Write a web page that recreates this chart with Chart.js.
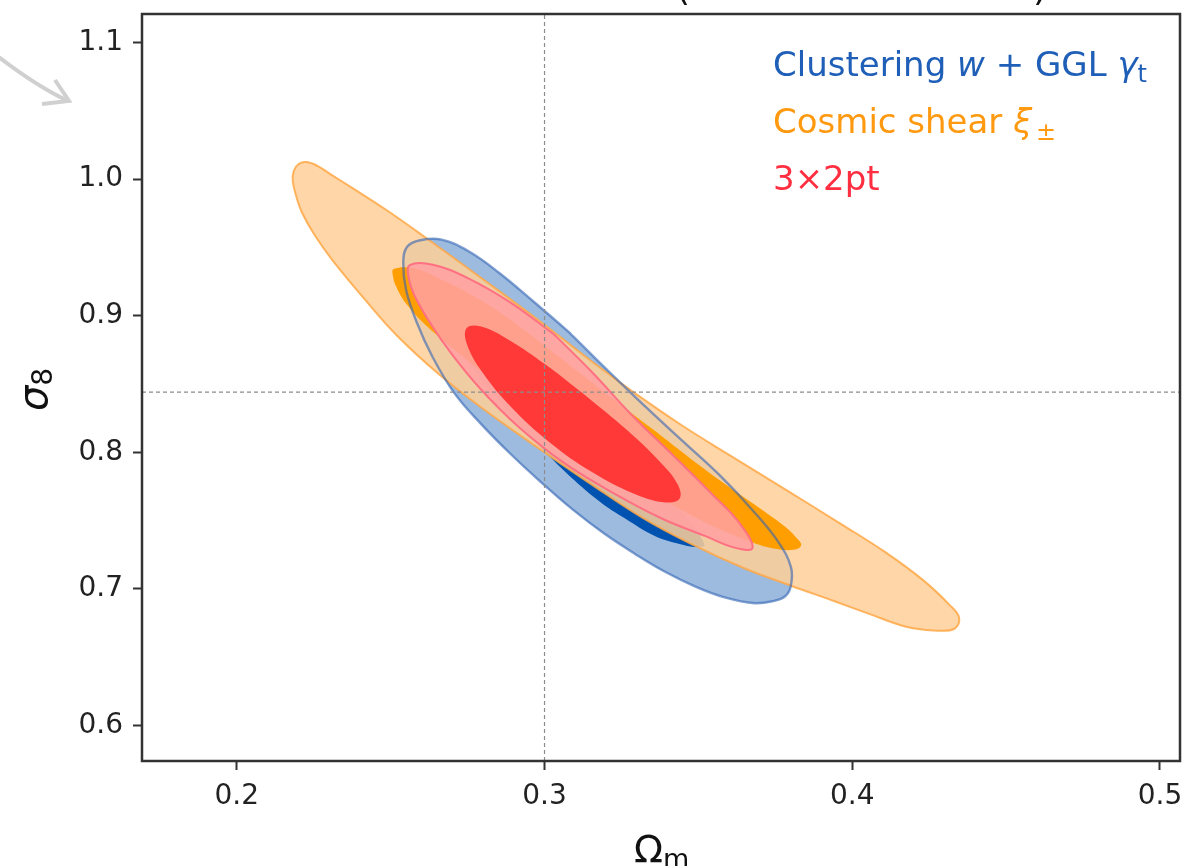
<!DOCTYPE html>
<html>
<head>
<meta charset="utf-8">
<script src="https://cdn.jsdelivr.net/npm/chart.js@4.4.1/dist/chart.umd.min.js"></script>
<style>
  html, body { margin: 0; padding: 0; background: #fff; }
  #wrap { width: 1189px; height: 866px; }
</style>
</head>
<body>
<div id="wrap"><canvas id="myChart" width="1189" height="866"></canvas></div>
<script>
// axes
const xTicks = [0.2, 0.3, 0.4, 0.5];
const yTicks = [0.6, 0.7, 0.8, 0.9, 1.0, 1.1];
const xRange = [0.1692, 0.5065];
const yRange = [0.5740, 1.1208];
const fiducialOm = 0.3;
const fiducialS8 = 0.844;

// contour outlines (Omega_m, sigma_8)
// cosmic shear, outer contour
const shearOuterOm = [0.3158, 0.3284, 0.3442, 0.3601, 0.3786, 0.3961, 0.4107, 0.4230, 0.4315, 0.4347,
  0.4332, 0.4265, 0.4172, 0.4055, 0.3943, 0.3801, 0.3649, 0.3481, 0.3319, 0.3144, 0.2971, 0.2801,
  0.2657, 0.2521, 0.2414, 0.2310, 0.2254, 0.2211, 0.2193, 0.2182, 0.2185, 0.2201, 0.2227, 0.2263,
  0.2309, 0.2375, 0.2485, 0.2613, 0.2782, 0.2972];
const shearOuterS8 = [0.8657, 0.8448, 0.8203, 0.7979, 0.7723, 0.7478, 0.7269, 0.7064, 0.6885, 0.6791,
  0.6708, 0.6696, 0.6725, 0.6817, 0.6909, 0.7023, 0.7151, 0.7324, 0.7520, 0.7778, 0.8045, 0.8317,
  0.8571, 0.8853, 0.9125, 0.9409, 0.9586, 0.9759, 0.9876, 0.9985, 1.0059, 1.0110, 1.0124, 1.0095,
  1.0029, 0.9935, 0.9775, 0.9572, 0.9296, 0.8981];
// cosmic shear, inner contour
const shearInnerOm = [0.3050, 0.3177, 0.3354, 0.3532, 0.3689, 0.3780, 0.3820, 0.3834, 0.3815, 0.3749,
  0.3653, 0.3504, 0.3308, 0.3095, 0.2903, 0.2740, 0.2617, 0.2550, 0.2519, 0.2507, 0.2510, 0.2571,
  0.2648, 0.2791, 0.2923];
const shearInnerS8 = [0.8693, 0.8471, 0.8164, 0.7856, 0.7606, 0.7458, 0.7370, 0.7321, 0.7288, 0.7293,
  0.7360, 0.7508, 0.7756, 0.8075, 0.8396, 0.8691, 0.8924, 0.9088, 0.9207, 0.9296, 0.9341, 0.9348,
  0.9283, 0.9116, 0.8914];
// clustering + GGL, outer contour
const clusOuterOm = [0.3087, 0.3094, 0.3206, 0.3327, 0.3450, 0.3573, 0.3676, 0.3761, 0.3801, 0.3800,
  0.3782, 0.3746, 0.3682, 0.3585, 0.3492, 0.3390, 0.3294, 0.3195, 0.3088, 0.2987, 0.2889, 0.2795,
  0.2707, 0.2635, 0.2586, 0.2550, 0.2541, 0.2553, 0.2596, 0.2666, 0.2752, 0.2851, 0.2966, 0.3081];
const clusOuterS8 = [0.8861, 0.8846, 0.8597, 0.8335, 0.8079, 0.7823, 0.7576, 0.7339, 0.7157, 0.7018,
  0.6946, 0.6912, 0.6895, 0.6938, 0.7015, 0.7127, 0.7256, 0.7403, 0.7587, 0.7784, 0.7989, 0.8204,
  0.8433, 0.8703, 0.8944, 0.9190, 0.9389, 0.9503, 0.9552, 0.9556, 0.9473, 0.9316, 0.9100, 0.8876];
// clustering + GGL, inner contour
const clusInnerOm = [0.3074, 0.3245, 0.3384, 0.3479, 0.3520, 0.3497, 0.3452, 0.3360, 0.3262, 0.3179,
  0.3067, 0.2963, 0.2864, 0.2769, 0.2681, 0.2632, 0.2620, 0.2665, 0.2746, 0.2894];
const clusInnerS8 = [0.8485, 0.8083, 0.7727, 0.7467, 0.7321, 0.7307, 0.7322, 0.7386, 0.7515, 0.7640,
  0.7858, 0.8097, 0.8347, 0.8607, 0.8884, 0.9089, 0.9224, 0.9209, 0.9119, 0.8865];
// 3x2pt, outer contour
const jointOuterOm = [0.3031, 0.3154, 0.3283, 0.3418, 0.3541, 0.3632, 0.3676, 0.3620, 0.3521, 0.3381,
  0.3224, 0.3062, 0.2915, 0.2792, 0.2698, 0.2630, 0.2576, 0.2558, 0.2562, 0.2637, 0.2751, 0.2891];
const jointOuterS8 = [0.8863, 0.8587, 0.8273, 0.7977, 0.7701, 0.7486, 0.7300, 0.7300, 0.7388, 0.7515,
  0.7701, 0.7924, 0.8187, 0.8463, 0.8720, 0.8941, 0.9154, 0.9283, 0.9370, 0.9373, 0.9275, 0.9094];
// 3x2pt, inner contour
const jointInnerOm = [0.3137, 0.3268, 0.3372, 0.3433, 0.3438, 0.3387, 0.3287, 0.3157, 0.3017, 0.2892,
  0.2798, 0.2748, 0.2747, 0.2794, 0.2883, 0.3003];
const jointInnerS8 = [0.8409, 0.8163, 0.7938, 0.7764, 0.7657, 0.7634, 0.7700, 0.7851, 0.8072, 0.8330,
  0.8586, 0.8791, 0.8909, 0.8920, 0.8824, 0.8642];

const FONT = "'DejaVu Sans', 'Liberation Sans', sans-serif";

// contour -> closed list of points
function outline(xs, ys) {
  const pts = xs.map((x, i) => ({ x: x, y: ys[i] }));
  pts.push({ x: xs[0], y: ys[0] });
  return pts;
}

function contour(xs, ys, fillColor, lineColor, lineWidth, order) {
  return {
    data: outline(xs, ys),
    showLine: true,
    fill: fillColor ? 'shape' : false,
    backgroundColor: fillColor || 'rgba(0,0,0,0)',
    borderColor: lineColor || 'rgba(0,0,0,0)',
    borderWidth: lineWidth,
    tension: 0.4,
    pointRadius: 0,
    pointHoverRadius: 0,
    order: order
  };
}

function refLine(pts) {
  return {
    data: pts,
    showLine: true,
    fill: false,
    borderColor: '#8c8c8c',
    borderWidth: 1.2,
    borderDash: [4, 3],
    pointRadius: 0,
    order: 0
  };
}

// draw text made of several runs (normal, italic, subscript)
function drawRuns(ctx, x, y, runs) {
  runs.forEach(r => {
    ctx.font = r.font;
    ctx.fillText(r.t, x, y + (r.dy || 0));
    x += ctx.measureText(r.t).width + (r.gap || 0);
  });
}

const decorPlugin = {
  id: 'decor',
  afterDraw(chart) {
    const ctx = chart.ctx;
    const a = chart.chartArea;
    ctx.save();

    // frame
    ctx.strokeStyle = '#333';
    ctx.lineWidth = 2.5;
    ctx.strokeRect(a.left, a.top, a.right - a.left, a.bottom - a.top);

    // legend text
    ctx.textBaseline = 'alphabetic';
    const big = '34px ' + FONT;
    const bigIt = 'italic 34px ' + FONT;
    const small = '24px ' + FONT;
    ctx.fillStyle = '#1f5fb8';
    drawRuns(ctx, 773, 76, [
      { t: 'Clustering ', font: big },
      { t: 'w', font: bigIt },
      { t: ' + GGL ', font: big },
      { t: 'γ', font: bigIt },
      { t: 't', font: small, dy: 6 }
    ]);
    ctx.fillStyle = '#ff9910';
    drawRuns(ctx, 773, 133, [
      { t: 'Cosmic shear ', font: big },
      { t: 'ξ', font: bigIt, gap: 4 },
      { t: '±', font: small, dy: 7 }
    ]);
    ctx.fillStyle = '#ff2e40';
    drawRuns(ctx, 773, 190, [{ t: '3×2pt', font: big }]);

    // axis titles
    ctx.fillStyle = '#111';
    drawRuns(ctx, 634, 862, [
      { t: 'Ω', font: '38px ' + FONT },
      { t: 'm', font: '27px ' + FONT, dy: 6 }
    ]);
    ctx.save();
    ctx.translate(47, 411);
    ctx.rotate(-Math.PI / 2);
    drawRuns(ctx, 0, 0, [
      { t: 'σ', font: 'italic 40px ' + FONT },
      { t: '8', font: '28px ' + FONT, dy: 5 }
    ]);
    ctx.restore();

    // title, cut off by the top edge
    ctx.font = '36px ' + FONT;
    ctx.fillText('(', 676, 0);
    ctx.fillText(')', 1033, 0);

    // grey arrow in the margin
    ctx.strokeStyle = 'rgb(208,208,208)';
    ctx.lineWidth = 4;
    ctx.beginPath();
    ctx.moveTo(-4, 55);
    ctx.quadraticCurveTo(36, 86, 68, 101);
    ctx.stroke();
    ctx.beginPath();
    ctx.moveTo(55, 80);
    ctx.lineTo(69, 101);
    ctx.lineTo(42, 104);
    ctx.stroke();

    ctx.restore();
  }
};

const tickFont = { family: FONT, size: 28 };
const gridOpts = {
  display: true,
  drawOnChartArea: false,
  drawTicks: true,
  tickLength: 9,
  tickWidth: 2,
  tickColor: '#333'
};

const ctx = document.getElementById('myChart').getContext('2d');
new Chart(ctx, {
  type: 'scatter',
  data: {
    datasets: [
      refLine([{ x: fiducialOm, y: yRange[0] }, { x: fiducialOm, y: yRange[1] }]),
      refLine([{ x: xRange[0], y: fiducialS8 }, { x: xRange[1], y: fiducialS8 }]),
      contour(jointInnerOm, jointInnerS8, 'rgb(255,56,56)', null, 0, 1),
      contour(jointOuterOm, jointOuterS8, 'rgba(255,160,160,0.88)', 'rgb(255,112,130)', 2, 2),
      contour(clusOuterOm, clusOuterS8, null, 'rgba(50,100,180,0.6)', 2.4, 3),
      contour(shearInnerOm, shearInnerS8, 'rgb(255,158,0)', null, 0, 4),
      contour(shearOuterOm, shearOuterS8, 'rgba(255,207,153,0.85)', 'rgba(255,168,70,0.85)', 2, 5),
      contour(clusInnerOm, clusInnerS8, 'rgb(0,82,176)', null, 0, 6),
      contour(clusOuterOm, clusOuterS8, 'rgb(157,187,222)', null, 0, 7)
    ]
  },
  options: {
    responsive: false,
    animation: false,
    events: [],
    layout: { padding: { top: 14, right: 9, left: 0, bottom: 0 } },
    plugins: {
      legend: { display: false },
      tooltip: { enabled: false }
    },
    scales: {
      x: {
        type: 'linear',
        min: xRange[0],
        max: xRange[1],
        afterBuildTicks: s => { s.ticks = xTicks.map(v => ({ value: v })); },
        afterFit: s => { s.height = 105; s.paddingLeft = 0; s.paddingRight = 0; },
        ticks: { font: tickFont, color: '#222', padding: 10, maxRotation: 0, callback: v => v.toFixed(1) },
        grid: gridOpts,
        border: { display: false }
      },
      y: {
        type: 'linear',
        min: yRange[0],
        max: yRange[1],
        afterBuildTicks: s => { s.ticks = yTicks.map(v => ({ value: v })); },
        afterFit: s => { s.width = 142; s.paddingTop = 0; s.paddingBottom = 0; },
        ticks: { font: tickFont, color: '#222', padding: 10, callback: v => v.toFixed(1) },
        grid: gridOpts,
        border: { display: false }
      }
    }
  },
  plugins: [decorPlugin]
});
</script>
</body>
</html>
